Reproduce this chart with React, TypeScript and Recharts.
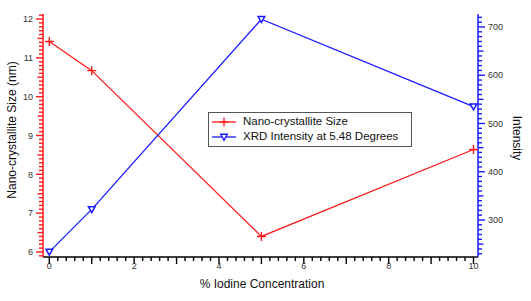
import React from "react";
import { ComposedChart, Line, XAxis, YAxis, Legend } from "recharts";

const iodineConcentration = [0, 1, 5, 10];
const crystalliteSize = [11.42, 10.67, 6.4, 8.64];
const xrdIntensity = [234, 322, 716, 535];

const xTickLabels = [0, 2, 4, 6, 8, 10];
const leftTickLabels = [6, 7, 8, 9, 10, 11, 12];
const rightTickLabels = [300, 400, 500, 600, 700];

const RED = "#ff1a1a";
const BLUE = "#1a1aff";
const FONT = "'Liberation Sans', Arial, sans-serif";

const data = iodineConcentration.map((x, i) => ({
  x,
  size: crystalliteSize[i],
  xrd: xrdIntensity[i],
}));

const range = (a: number, b: number, step: number) => {
  const out: number[] = [];
  const n = Math.round((b - a) / step);
  for (let i = 0; i <= n; i++) out.push(Math.round((a + i * step) * 1000) / 1000);
  return out;
};

const xTicks = range(0, 10, 0.2);
const leftTicks = range(5.9, 12.1, 0.1);
const rightTicks = range(230, 720, 10);

const near = (v: number, arr: number[]) => arr.some((a) => Math.abs(a - v) < 1e-6);
const isMult = (v: number, m: number) => Math.abs(v / m - Math.round(v / m)) < 1e-6;

const XTick = (props: any) => {
  const { x, y, payload } = props;
  const v = payload.value;
  const len = isMult(v, 1) ? 7 : 4;
  return (
    <g>
      <line x1={x} x2={x} y1={y} y2={y + len} stroke="#000" strokeWidth={1.4} />
      {near(v, xTickLabels) && (
        <text x={x} y={y + 12} textAnchor="middle" fontSize={9} fill="#333" fontFamily={FONT}>
          {v}
        </text>
      )}
    </g>
  );
};

const LeftTick = (props: any) => {
  const { x, y, payload } = props;
  const v = payload.value;
  const len = isMult(v, 1) ? 7 : isMult(v, 0.5) ? 5.5 : 4;
  return (
    <g>
      <line x1={x} x2={x - len} y1={y} y2={y} stroke={RED} strokeWidth={1.4} />
      {near(v, leftTickLabels) && (
        <text x={x - 10} y={y + 3.2} textAnchor="end" fontSize={9} fill="#333" fontFamily={FONT}>
          {v}
        </text>
      )}
    </g>
  );
};

const RightTick = (props: any) => {
  const { x, y, payload } = props;
  const v = payload.value;
  const len = isMult(v, 100) ? 7 : isMult(v, 50) ? 5.5 : 4;
  return (
    <g>
      <line x1={x} x2={x + len} y1={y} y2={y} stroke={BLUE} strokeWidth={1.4} />
      {near(v, rightTickLabels) && (
        <text x={x + 10} y={y + 3.2} textAnchor="start" fontSize={9} fill="#333" fontFamily={FONT}>
          {v}
        </text>
      )}
    </g>
  );
};

const PlusDot = (props: any) => {
  const { cx, cy, index } = props;
  if (cx == null || cy == null) return <g key={index} />;
  return (
    <path
      key={index}
      d={`M${cx - 4.5},${cy}H${cx + 4.5}M${cx},${cy - 4.5}V${cy + 4.5}`}
      stroke={RED}
      strokeWidth={1.4}
      fill="none"
    />
  );
};

const TriDot = (props: any) => {
  const { cx, cy, index } = props;
  if (cx == null || cy == null) return <g key={index} />;
  return (
    <path
      key={index}
      d={`M${cx - 3.3},${cy - 2.7}H${cx + 3.3}L${cx},${cy + 3.3}Z`}
      stroke={BLUE}
      strokeWidth={1.5}
      fill="#fff"
    />
  );
};

const LegendContent = () => (
  <div
    style={{
      border: "1.5px solid #555",
      background: "#fff",
      padding: "1px 3px 2px 3px",
      fontFamily: FONT,
      fontSize: 11.5,
      color: "#111",
      lineHeight: "15px",
      boxSizing: "border-box",
      width: 204,
    }}
  >
    <div style={{ display: "flex", alignItems: "center" }}>
      <svg width={26} height={12} style={{ marginRight: 5 }}>
        <line x1={0} x2={24} y1={6} y2={6} stroke={RED} strokeWidth={1.3} />
        <path d="M7.5,6H16.5M12,1.5V10.5" stroke={RED} strokeWidth={1.3} />
      </svg>
      <span>Nano-crystallite Size</span>
    </div>
    <div style={{ display: "flex", alignItems: "center" }}>
      <svg width={26} height={12} style={{ marginRight: 5 }}>
        <line x1={0} x2={24} y1={6} y2={6} stroke={BLUE} strokeWidth={1.3} />
        <path d="M8.7,3.3H15.3L12,9.3Z" stroke={BLUE} strokeWidth={1.4} fill="#fff" />
      </svg>
      <span>XRD Intensity at 5.48 Degrees</span>
    </div>
  </div>
);

export default function App() {
  return (
    <div style={{ position: "absolute", left: 0, top: 0, width: 531, height: 301, background: "#fff" }}>
      <ComposedChart
        width={531}
        height={301}
        data={data}
        margin={{ top: 14, right: 0, bottom: 0, left: 0 }}
      >
        <XAxis
          dataKey="x"
          type="number"
          domain={[-0.149, 10.106]}
          allowDataOverflow
          ticks={xTicks}
          interval={0}
          tickSize={0}
          tickMargin={0}
          tickLine={false}
          tick={<XTick />}
          height={44}
          axisLine={{ stroke: "#000", strokeWidth: 1.5 }}
          label={(p: any) => {
            const vb = p.viewBox;
            return (
              <text x={262} y={vb.y + 31} textAnchor="middle" fontSize={12} fill="#111" fontFamily={FONT}>
                % Iodine Concentration
              </text>
            );
          }}
        />
        <XAxis
          xAxisId="top"
          dataKey="x"
          type="number"
          orientation="top"
          domain={[-0.149, 10.106]}
          allowDataOverflow
          height={0}
          tick={false}
          tickLine={false}
          axisLine={{ stroke: "#000", strokeWidth: 1.5 }}
        />
        <YAxis
          yAxisId="left"
          orientation="left"
          type="number"
          width={43}
          domain={[5.871, 12.129]}
          allowDataOverflow
          ticks={leftTicks}
          interval={0}
          tickSize={0}
          tickMargin={0}
          tickLine={false}
          tick={<LeftTick />}
          axisLine={{ stroke: RED, strokeWidth: 1.5 }}
          label={() => (
            <text
              x={12}
              y={130}
              transform="rotate(-90 12 130)"
              textAnchor="middle"
              dominantBaseline="central"
              fontSize={12}
              fill="#111"
              fontFamily={FONT}
            >
              Nano-crystallite Size (nm)
            </text>
          )}
        />
        <YAxis
          yAxisId="right"
          orientation="right"
          type="number"
          width={53}
          domain={[223.3, 726.9]}
          allowDataOverflow
          ticks={rightTicks}
          interval={0}
          tickSize={0}
          tickMargin={0}
          tickLine={false}
          tick={<RightTick />}
          axisLine={{ stroke: BLUE, strokeWidth: 1.5 }}
          label={() => (
            <text
              x={517}
              y={138}
              transform="rotate(90 517 138)"
              textAnchor="middle"
              dominantBaseline="central"
              fontSize={12}
              fill="#111"
              fontFamily={FONT}
            >
              Intensity
            </text>
          )}
        />
        <Legend
          layout="vertical"
          align="center"
          verticalAlign="middle"
          content={<LegendContent />}
          wrapperStyle={{ left: 208, top: 112, width: 204, height: 36 }}
        />
        <Line
          yAxisId="left"
          dataKey="size"
          name="Nano-crystallite Size"
          stroke={RED}
          strokeWidth={1.3}
          dot={PlusDot}
          activeDot={false}
          isAnimationActive={false}
        />
        <Line
          yAxisId="right"
          dataKey="xrd"
          name="XRD Intensity at 5.48 Degrees"
          stroke={BLUE}
          strokeWidth={1.3}
          dot={TriDot}
          activeDot={false}
          isAnimationActive={false}
        />
      </ComposedChart>
    </div>
  );
}
